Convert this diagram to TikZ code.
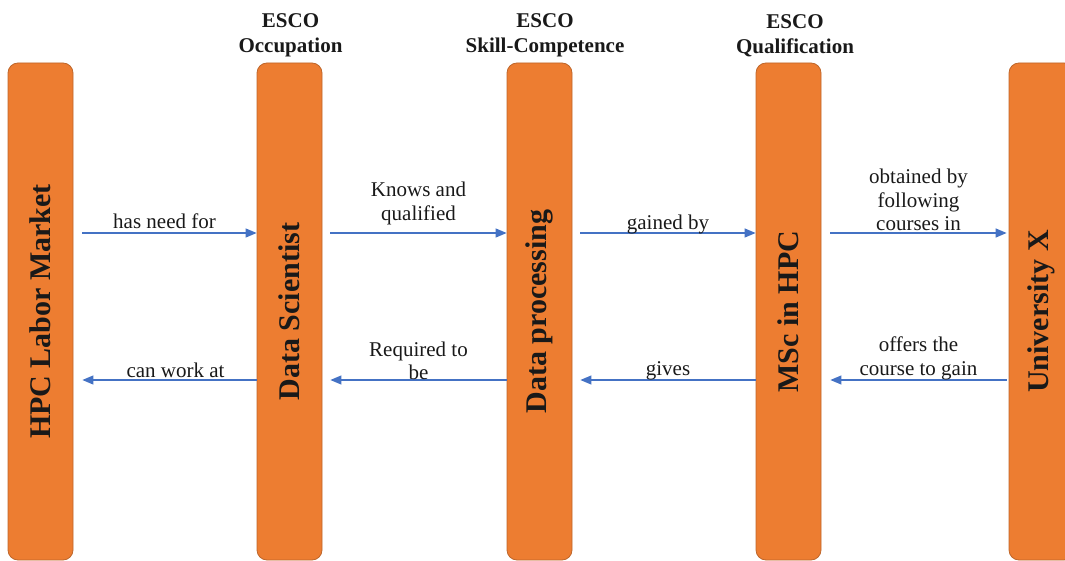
\documentclass[tikz,border=0pt]{standalone}
\usepackage{fontspec}
\setmainfont{Liberation Serif}
\usetikzlibrary{arrows.meta}
\definecolor{barfill}{RGB}{237,125,49}
\definecolor{baredge}{RGB}{190,102,42}
\definecolor{flowblue}{RGB}{68,114,196}
\definecolor{ink}{RGB}{25,25,25}
\begin{document}
\begin{tikzpicture}[x=1pt,y=-1pt,
  bar/.style={draw=baredge, line width=0.8pt, fill=barfill, rounded corners=10pt,
    minimum width=65pt, minimum height=497pt, inner sep=0pt, text=ink,
    font=\fontsize{30}{32}\selectfont\bfseries},
  head/.style={anchor=south, align=center, inner sep=0pt, text=ink,
    font=\fontsize{21}{25}\selectfont\bfseries},
  flow/.style={draw=flowblue, line width=1.2pt, -{Triangle[length=11pt,width=9pt]}},
  lbl/.style={midway, anchor=south, align=center, inner sep=1.5pt, text=ink,
    font=\fontsize{21}{23.5}\selectfont}]
  \clip (0,0) rectangle (1065,561);

  % vertical concept bars
  \node[bar] (market) at (40.5,311.5)   {\rotatebox{90}{HPC Labor Market}};
  \node[bar] (occ)    at (289.5,311.5)  {\rotatebox{90}{Data Scientist}};
  \node[bar] (skill)  at (539.5,311.5)  {\rotatebox{90}{Data processing}};
  \node[bar] (qual)   at (788.5,311.5)  {\rotatebox{90}{MSc in HPC}};
  \node[bar] (uni)    at (1041.5,311.5) {\rotatebox{90}{University X}};

  % ESCO headings
  \node[head] (hocc)   at ([shift={(1,-5.5)}]occ.north)   {ESCO\\Occupation};
  \node[head] (hskill) at ([shift={(5.5,-5.5)}]skill.north) {ESCO\\Skill-Competence};
  \node[head] (hqual)  at ([shift={(6.5,-5.5)}]qual.north)  {ESCO\\Qualification};

  % forward relations
  \draw[flow] ([shift={(9,-78.5)}]market.east) -- node[lbl, xshift=-5pt, yshift=2pt] {has need for} ([shift={(0,-78.5)}]occ.west);
  \draw[flow] ([shift={(8,-78.5)}]occ.east) -- node[lbl, yshift=6pt] {Knows and\\qualified} ([shift={(0,-78.5)}]skill.west);
  \draw[flow] ([shift={(8,-78.5)}]skill.east) -- node[lbl, yshift=-3pt] {gained by} ([shift={(0,-78.5)}]qual.west);
  \draw[flow] ([shift={(9,-78.5)}]qual.east) -- node[lbl] {obtained by\\following\\courses in} ([shift={(-2,-78.5)}]uni.west);

  % backward relations
  \draw[flow] ([shift={(0,68.5)}]occ.west) -- node[lbl, xshift=6pt] {can work at} ([shift={(9,68.5)}]market.east);
  \draw[flow] ([shift={(0,68.5)}]skill.west) -- node[lbl, yshift=-2pt] {Required to\\be} ([shift={(8,68.5)}]occ.east);
  \draw[flow] ([shift={(0,68.5)}]qual.west) -- node[lbl, yshift=-2pt] {gives} ([shift={(8,68.5)}]skill.east);
  \draw[flow] ([shift={(-2,68.5)}]uni.west) -- node[lbl, yshift=-2pt] {offers the\\course to gain} ([shift={(9,68.5)}]qual.east);
\end{tikzpicture}
\end{document}
